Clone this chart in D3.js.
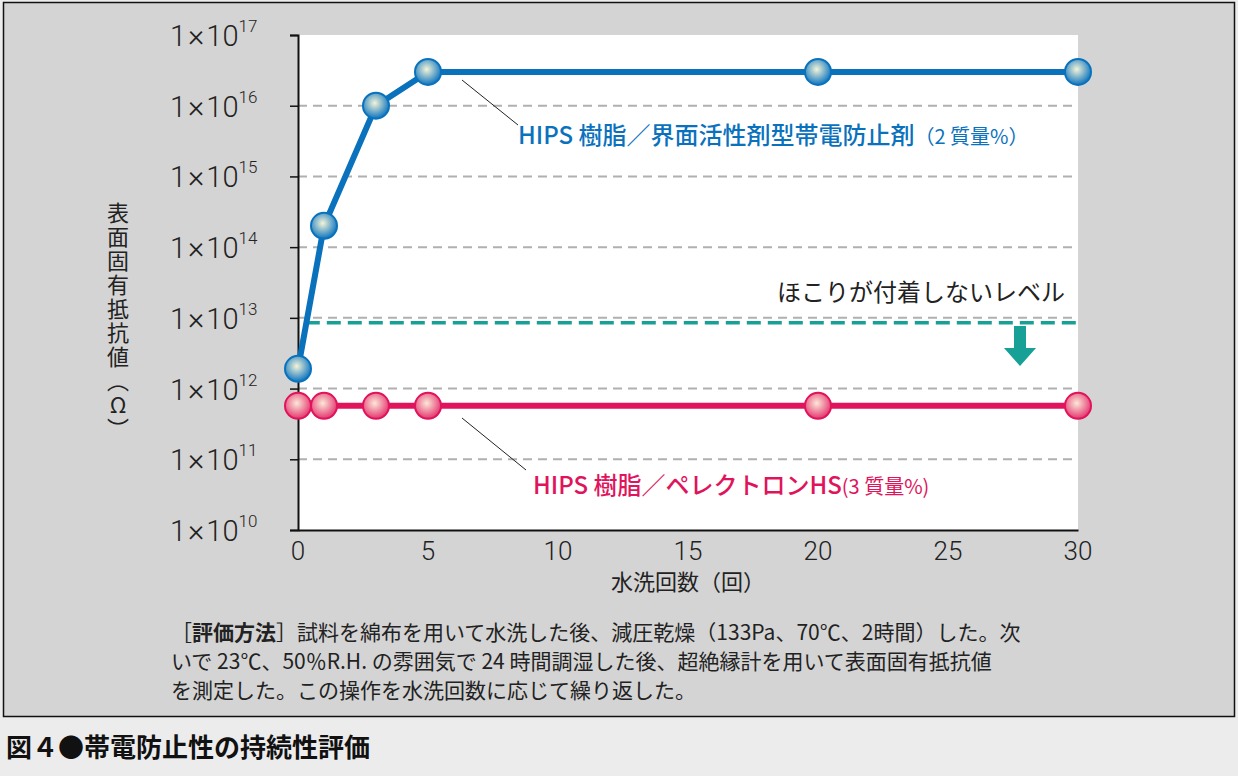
<!DOCTYPE html>
<html><head><meta charset="utf-8">
<script src="https://cdn.jsdelivr.net/npm/d3@7"></script>
<style>body{margin:0;background:#ececec;font-family:"Noto Sans CJK JP",sans-serif;}</style>
</head><body><div class="canvas"></div>
<script>
const washes = [0, 1, 3, 5, 20, 30];
const blueVals = [1.9e12, 2e14, 1e16, 3e16, 3e16, 3e16];
const redVals = [5.7e11, 5.7e11, 5.7e11, 5.7e11, 5.7e11, 5.7e11];
const dustLevel = 8.5e12;
const yExps = [10, 11, 12, 13, 14, 15, 16, 17];
const xTicks = [0, 5, 10, 15, 20, 25, 30];

const dims = { left: 298, right: 1078, top: 35, bottom: 530 };
const svg = d3.select('.canvas').append('svg').attr('width', 1238).attr('height', 776);

svg.append('rect').attr('x', 3.5).attr('y', 2.5).attr('width', 1231).attr('height', 714)
    .attr('fill', '#d4d4d4').attr('stroke', '#111').attr('stroke-width', 1.5);
svg.append('rect').attr('x', dims.left).attr('y', dims.top)
    .attr('width', dims.right - dims.left).attr('height', dims.bottom - dims.top).attr('fill', '#fff');

const x = d3.scaleLinear().domain([0, 30]).range([dims.left, dims.right]);
const y = d3.scaleLog().domain([1e10, 1e17]).range([dims.bottom, dims.top]);

// grid
svg.selectAll('.grid').data(yExps.slice(1, -1)).enter().append('line')
    .attr('x1', dims.left).attr('x2', dims.right)
    .attr('y1', d => y(Math.pow(10, d))).attr('y2', d => y(Math.pow(10, d)))
    .attr('stroke', '#b0b0b0').attr('stroke-width', 2).attr('stroke-dasharray', '9,6');

// axes
const yAxis = svg.append('g').attr('transform', `translate(${dims.left},0)`)
    .call(d3.axisLeft(y).tickValues(yExps.map(e => Math.pow(10, e))).tickFormat('').tickSizeOuter(0).tickSize(8));
const xAxis = svg.append('g').attr('transform', `translate(0,${dims.bottom})`)
    .call(d3.axisBottom(x).tickValues(xTicks).tickFormat('').tickSizeOuter(0).tickSize(0));
[yAxis, xAxis].forEach(g => { g.select('.domain').attr('stroke', '#111').attr('stroke-width', 2); g.selectAll('line').attr('stroke', '#111').attr('stroke-width', 1.5); });

const yl = svg.append('g').selectAll('text').data(yExps).enter().append('text')
    .attr('x', 170).attr('y', d => y(Math.pow(10, d)) + 11)
    .attr('font-family', 'Roboto, sans-serif').attr('font-size', 29).attr('font-weight', 300).attr('fill', '#222');
yl.append('tspan').text('1');
yl.append('tspan').attr('dx', 2).attr('font-size', 31).text('×');
yl.append('tspan').attr('dx', 2).text('10');
yl.append('tspan').attr('dy', -14).attr('font-size', 17).text(d => d);

svg.append('g').selectAll('text').data(xTicks).enter().append('text')
    .attr('x', d => x(d)).attr('y', dims.bottom + 30).attr('text-anchor', 'middle')
    .attr('font-family', 'Roboto, sans-serif').attr('font-size', 26).attr('font-weight', 300).attr('fill', '#222')
    .text(d => d);

svg.append('text').attr('x', 688).attr('y', 590).attr('text-anchor', 'middle')
    .attr('font-size', 22).attr('fill', '#222').text('水洗回数（回）');
svg.append('text').attr('transform', 'translate(118,322)').attr('text-anchor', 'middle')
    .attr('writing-mode', 'vertical-rl').style('text-orientation', 'upright').attr('font-size', 22).attr('fill', '#222')
    .attr('letter-spacing', 2).text('表面固有抵抗値（Ω）');

// dust level line + arrow
svg.append('line').attr('x1', x(0.3)).attr('x2', dims.right).attr('y1', y(dustLevel)).attr('y2', y(dustLevel))
    .attr('stroke', '#16a096').attr('stroke-width', 3.5).attr('stroke-dasharray', '14,7');
svg.append('path').attr('d', 'M1014,326 h12 v22 h10 l-16,18 l-16,-18 h10 z').attr('fill', '#16a096');
svg.append('text').attr('x', 1065).attr('y', 301).attr('text-anchor', 'end')
    .attr('font-size', 24).attr('fill', '#222').text('ほこりが付着しないレベル');

// gradients
const defs = svg.append('defs');
[['gBlue', '#f4f4d8', '#0b74c0'], ['gRed', '#fbe8d8', '#e5356f']].forEach(([id, c0, c1]) => {
    const g = defs.append('radialGradient').attr('id', id).attr('cx', '45%').attr('cy', '40%').attr('r', '60%');
    g.append('stop').attr('offset', '0%').attr('stop-color', c0);
    g.append('stop').attr('offset', '100%').attr('stop-color', c1);
});

const line = d3.line().x((d, i) => x(washes[i])).y(d => y(d));
const series = [
    { vals: redVals, color: '#e0145c', grad: 'gRed' },
    { vals: blueVals, color: '#0a72bd', grad: 'gBlue' }
];

// leader lines
svg.append('line').attr('x1', 462).attr('y1', 80).attr('x2', 518).attr('y2', 125).attr('stroke', '#222').attr('stroke-width', 1);
svg.append('line').attr('x1', 462).attr('y1', 418).attr('x2', 526).attr('y2', 470).attr('stroke', '#222').attr('stroke-width', 1);

series.forEach(s => {
    svg.append('path').datum(s.vals).attr('d', line).attr('fill', 'none')
        .attr('stroke', s.color).attr('stroke-width', 6);
    svg.append('g').selectAll('circle').data(s.vals).enter().append('circle')
        .attr('cx', (d, i) => x(washes[i])).attr('cy', d => y(d)).attr('r', 13)
        .attr('fill', `url(#${s.grad})`).attr('stroke', s.color).attr('stroke-width', 2);
});

const lb = svg.append('text').attr('x', 518).attr('y', 144).attr('font-size', 24).attr('font-weight', 500).attr('fill', '#0a72bd');
lb.append('tspan').text('HIPS 樹脂／界面活性剤型帯電防止剤');
lb.append('tspan').attr('font-size', 20).attr('font-weight', 400).text('（2 質量%）');
const lr = svg.append('text').attr('x', 533).attr('y', 494).attr('font-size', 24).attr('font-weight', 500).attr('fill', '#e0145c');
lr.append('tspan').text('HIPS 樹脂／ペレクトロンHS');
lr.append('tspan').attr('font-size', 20).attr('font-weight', 400).text('(3 質量%)');

// method note
const note = [
    ['［', '評価方法', '］試料を綿布を用いて水洗した後、減圧乾燥（133Pa、70℃、2時間）した。次'],
    ['', '', 'いで 23℃、50％R.H. の雰囲気で 24 時間調湿した後、超絶縁計を用いて表面固有抵抗値'],
    ['', '', 'を測定した。この操作を水洗回数に応じて繰り返した。']
];
note.forEach((n, i) => {
    const t = svg.append('text').attr('x', 171).attr('y', 640 + i * 29).attr('font-size', 21).attr('fill', '#222');
    t.append('tspan').text(n[0]);
    t.append('tspan').attr('font-weight', 700).text(n[1]);
    t.append('tspan').text(n[2]);
});

svg.append('text').attr('x', 6).attr('y', 757).attr('font-size', 26).attr('font-weight', 700).attr('fill', '#111')
    .text('図４●帯電防止性の持続性評価');
</script></body></html>
